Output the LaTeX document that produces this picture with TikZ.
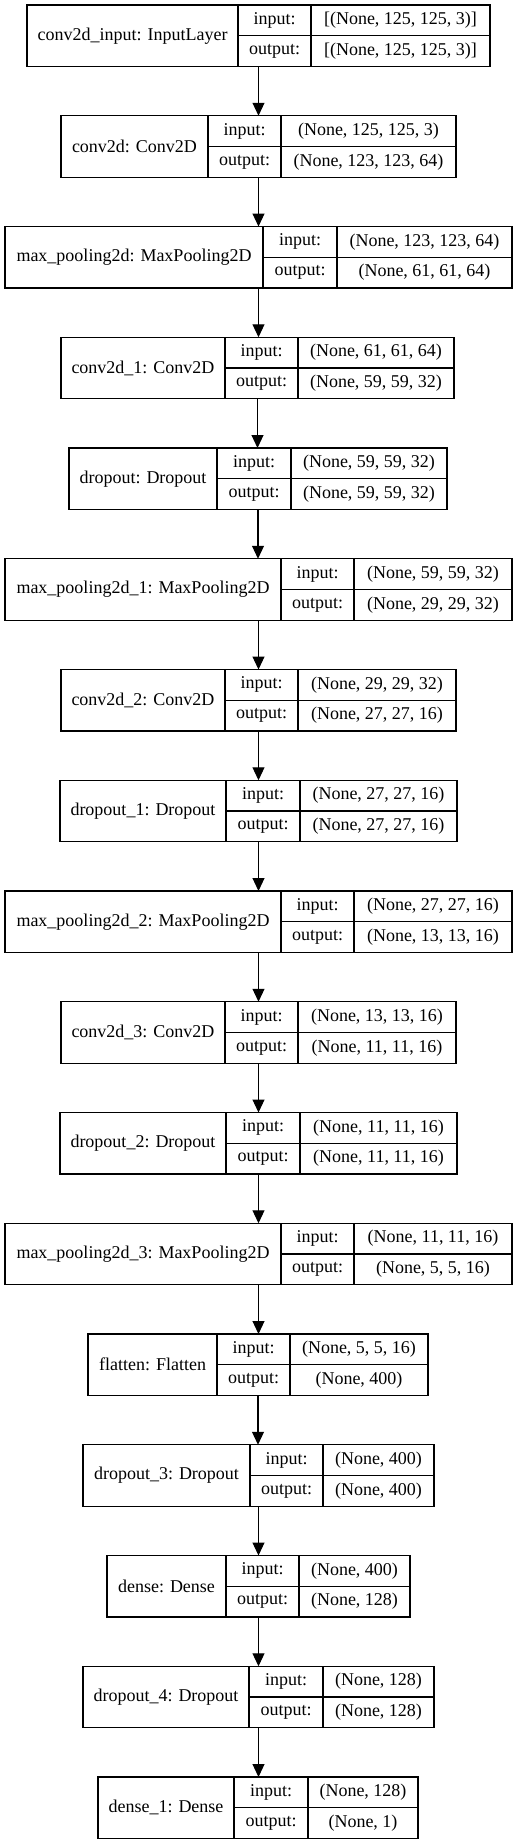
\documentclass[tikz,border=0pt]{standalone}
\usepackage{fontspec}
\setmainfont{Liberation Serif}
\usetikzlibrary{positioning, arrows.meta}

\begin{document}
\begin{tikzpicture}[x=1pt, y=-1pt, line width=1.1pt,
    flow/.style={-{Triangle[length=13pt, width=12pt]}},
    cell/.style={draw, rectangle, inner sep=0pt, outer sep=0pt, minimum height=30.75pt, anchor=north west,
        font=\fontsize{18}{20}\selectfont}]
                \tikzset{layerbox/.style={draw, rectangle, inner sep=0pt, outer sep=0pt, minimum height=61.5pt}}
                \useasboundingbox (0,0) rectangle (517,1844);

                \foreach \k/\lname/\xa/\xb/\xc/\xd/\vin/\vout in {
                    0/{conv2d\_input: InputLayer}/27/238/311/490/{[(None, 125, 125, 3)]}/{[(None, 125, 125, 3)]},
                    1/{conv2d: Conv2D}/61/208/281/456/{(None, 125, 125, 3)}/{(None, 123, 123, 64)},
                    2/{max\_pooling2d: MaxPooling2D}/5/263/337/512/{(None, 123, 123, 64)}/{(None, 61, 61, 64)},
                    3/{conv2d\_1: Conv2D}/61/225/298/454/{(None, 61, 61, 64)}/{(None, 59, 59, 32)},
                    4/{dropout: Dropout}/69/217/291/447/{(None, 59, 59, 32)}/{(None, 59, 59, 32)},
                    5/{max\_pooling2d\_1: MaxPooling2D}/5/281/354/512/{(None, 59, 59, 32)}/{(None, 29, 29, 32)},
                    6/{conv2d\_2: Conv2D}/61/225/298/456/{(None, 29, 29, 32)}/{(None, 27, 27, 16)},
                    7/{dropout\_1: Dropout}/60/226/300/457/{(None, 27, 27, 16)}/{(None, 27, 27, 16)},
                    8/{max\_pooling2d\_2: MaxPooling2D}/5/281/354/512/{(None, 27, 27, 16)}/{(None, 13, 13, 16)},
                    9/{conv2d\_3: Conv2D}/61/225/298/456/{(None, 13, 13, 16)}/{(None, 11, 11, 16)},
                    10/{dropout\_2: Dropout}/60/226/300/457/{(None, 11, 11, 16)}/{(None, 11, 11, 16)},
                    11/{max\_pooling2d\_3: MaxPooling2D}/5/281/354/512/{(None, 11, 11, 16)}/{(None, 5, 5, 16)},
                    12/{flatten: Flatten}/88/217/290/428/{(None, 5, 5, 16)}/{(None, 400)},
                    13/{dropout\_3: Dropout}/83/250/323/434/{(None, 400)}/{(None, 400)},
                    14/{dense: Dense}/107/226/299/410/{(None, 400)}/{(None, 128)},
                    15/{dropout\_4: Dropout}/83/249/323/434/{(None, 128)}/{(None, 128)},
                    16/{dense\_1: Dense}/98/234/308/418/{(None, 128)}/{(None, 1)}}{
                    \pgfmathsetmacro\ytop{5+110.75*\k}
                    \node[layerbox, minimum width={(\xd-\xa)*1pt}, anchor=north] (layer\k) at ({(\xa+\xd)/2}, \ytop) {};
                    \node[cell, minimum height=61.5pt, minimum width={(\xb-\xa)*1pt}] (name\k) at (layer\k.north west) {\lname};
                    \node[cell, minimum width={(\xc-\xb)*1pt}] (inlbl\k) at (name\k.north east) {input:};
                    \node[cell, minimum width={(\xc-\xb)*1pt}] (outlbl\k) at (inlbl\k.south west) {output:};
                    \node[cell, minimum width={(\xd-\xc)*1pt}] (invalue\k) at (inlbl\k.north east) {\vin};
                    \node[cell, minimum width={(\xd-\xc)*1pt}] (outvalue\k) at (invalue\k.south west) {\vout};
                }

                \foreach \k [evaluate=\k as \j using int(\k+1)] in {0,...,15}
                    \draw[flow] (layer\k.south) -- (layer\k.south |- layer\j.north);

            \end{tikzpicture}
\end{document}
